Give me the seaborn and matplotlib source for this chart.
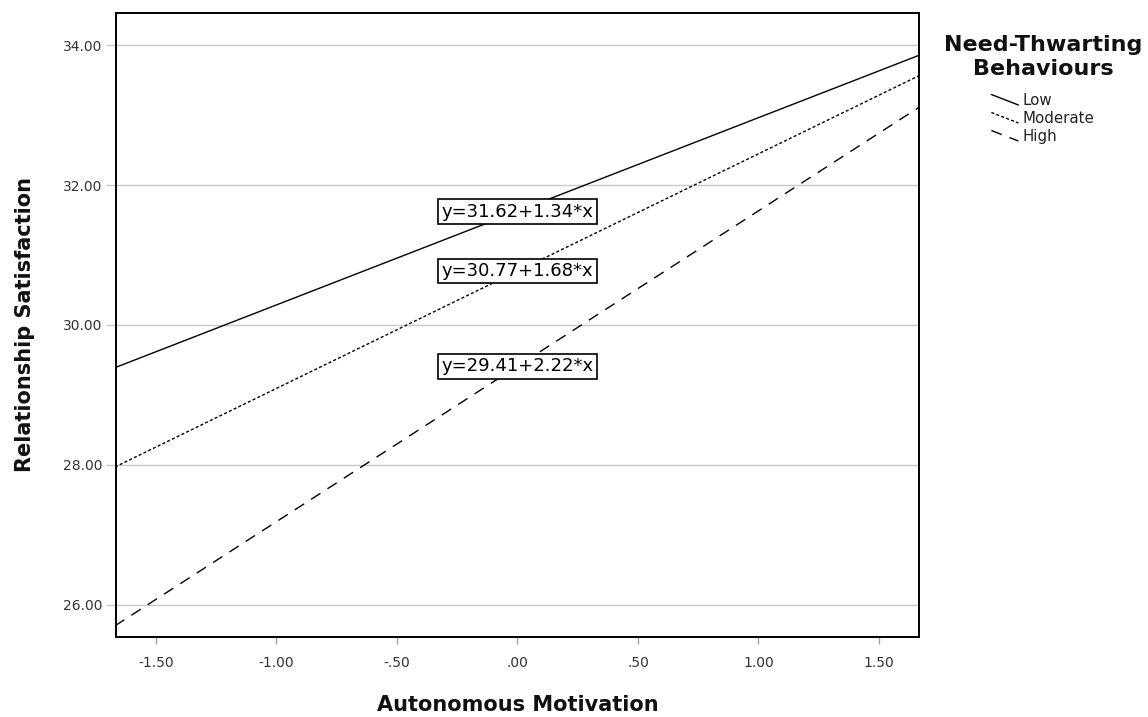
import pandas as pd
import matplotlib
matplotlib.use("Agg")
import matplotlib.pyplot as plt
from matplotlib.lines import Line2D
from matplotlib.legend_handler import HandlerLine2D
from matplotlib.ticker import FuncFormatter
import seaborn as sns

# values
levels = ["Low", "Moderate", "High"]
x_ends = [-1.67, 1.67]
low_y = [29.39, 33.86]
mod_y = [27.97, 33.57]
high_y = [25.70, 33.12]
eq_labels = ["y=31.62+1.34*x", "y=30.77+1.68*x", "y=29.41+2.22*x"]
eq_y = [31.62, 30.77, 29.41]
x_ticks = [-1.5, -1.0, -0.5, 0.0, 0.5, 1.0, 1.5]
y_ticks = [26, 28, 30, 32, 34]

df = pd.DataFrame({
    "Autonomous Motivation": x_ends * 3,
    "Relationship Satisfaction": low_y + mod_y + high_y,
    "level": [lv for lv in levels for _ in x_ends],
})

sns.set_theme(style="white")
plt.rcParams["font.family"] = ["DejaVu Sans"]

fig = plt.figure(figsize=(11.48, 7.17), dpi=100)
ax = fig.add_axes([0.101, 0.1116, 0.6995, 0.8703])

styles = {"Low": "", "Moderate": (2.2, 1.6), "High": (8, 6)}
sns.lineplot(data=df, x="Autonomous Motivation", y="Relationship Satisfaction",
             hue="level", style="level", dashes=styles,
             palette={lv: "black" for lv in levels}, linewidth=1.0,
             legend=False, ax=ax, zorder=3)

ax.set_xlim(-1.666, 1.666)
ax.set_ylim(25.54, 34.46)
ax.set_xticks(x_ticks)
ax.set_yticks(y_ticks)

def fmt_x(v, pos):
    s = "%.2f" % v
    return s.replace("0.", ".", 1) if abs(v) < 1 else s

ax.xaxis.set_major_formatter(FuncFormatter(fmt_x))
ax.yaxis.set_major_formatter(FuncFormatter(lambda v, p: "%.2f" % v))
ax.yaxis.grid(True, color="#c8c8c8", linewidth=1.0, zorder=0)
ax.xaxis.grid(False)
ax.tick_params(axis="x", direction="out", length=5, width=1, color="#a0a0a0",
               labelsize=10, labelcolor="#333333", pad=9, bottom=True)
ax.tick_params(axis="y", direction="out", length=7, width=1, color="#c8c8c8",
               labelsize=10, labelcolor="#333333", pad=3, left=True)
for sp in ax.spines.values():
    sp.set_color("black")
    sp.set_linewidth(1.4)

lab_font = dict(fontweight="bold", fontsize=15, color="#111111")
ax.set_xlabel("Autonomous Motivation", labelpad=18, **lab_font)
ax.set_ylabel("Relationship Satisfaction", labelpad=20, **lab_font)

for txt, yv in zip(eq_labels, eq_y):
    ax.text(0.0, yv, txt, ha="center", va="center", fontsize=13, color="black", zorder=5,
            bbox=dict(boxstyle="square,pad=0.18", facecolor="white", edgecolor="black", linewidth=1.2))


class SlantLine(HandlerLine2D):
    def create_artists(self, legend, orig_handle, xdescent, ydescent, width, height, fontsize, trans):
        ln = Line2D([-xdescent, -xdescent + width], [-ydescent + height, -ydescent])
        self.update_prop(ln, orig_handle, legend)
        ln.set_transform(trans)
        return [ln]


# legend title as its own text, entries underneath
fig.text(1043 / 1148, 1 - 57 / 717, "Need-Thwarting\nBehaviours", ha="center", va="center",
         multialignment="center", fontsize=16, fontweight="bold", color="#111111", linespacing=1.25)

handles = [Line2D([], [], color="black", linewidth=1.0, linestyle="-"),
           Line2D([], [], color="black", linewidth=1.0, dashes=styles["Moderate"]),
           Line2D([], [], color="black", linewidth=1.0, dashes=styles["High"])]
leg = fig.legend(handles, levels, loc="upper center", bbox_to_anchor=(1043 / 1148, 1 - 81 / 717),
                 frameon=False, fontsize=10.8, borderpad=0.3,
                 handlelength=1.8, handletextpad=0.3, labelspacing=0.2,
                 handler_map={Line2D: SlantLine()})
for t in leg.get_texts():
    t.set_color("#222222")

fig.savefig("out.png", dpi=100)
